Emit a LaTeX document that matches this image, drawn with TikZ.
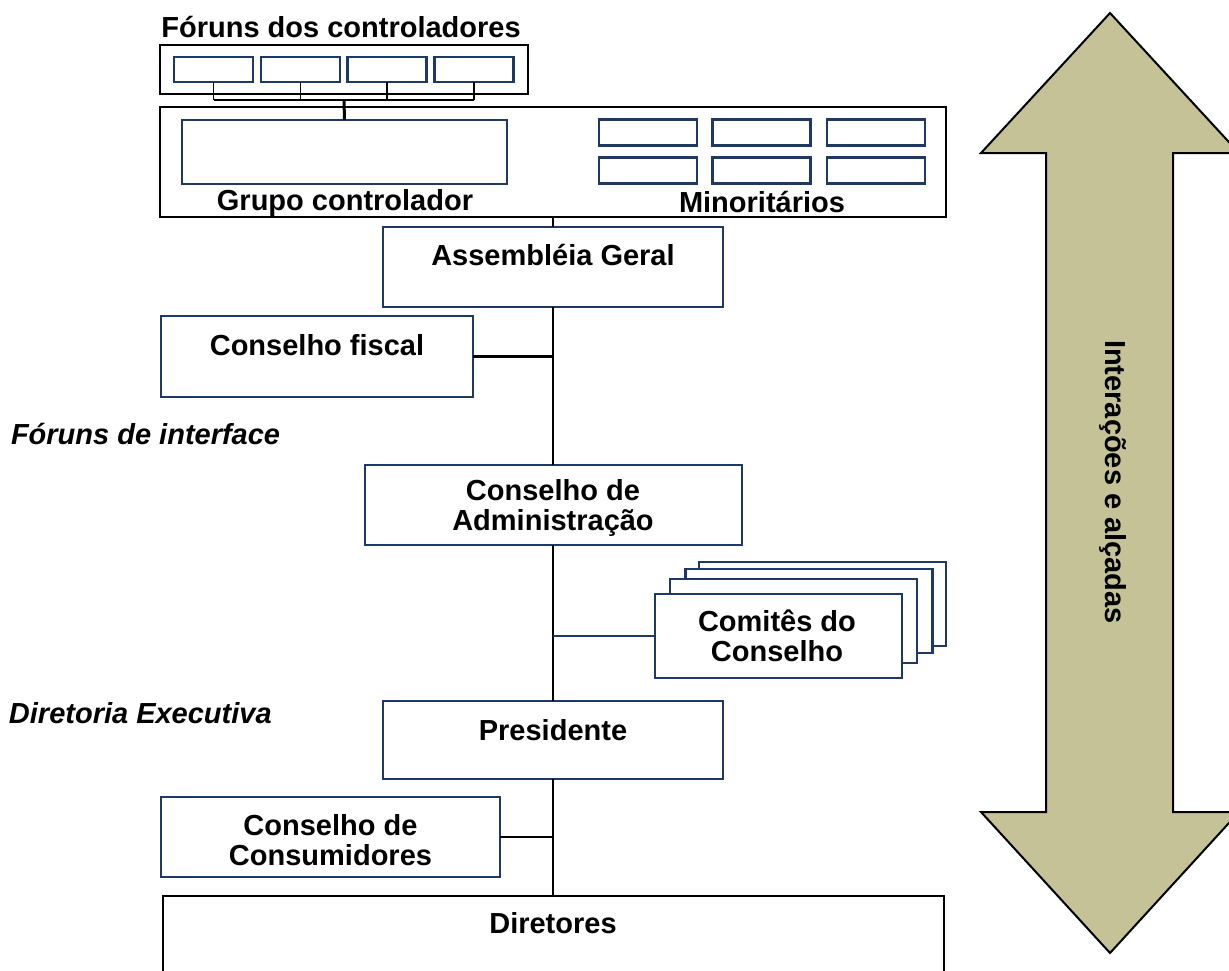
\documentclass[tikz,border=0pt]{standalone}
\usepackage{fontspec}
\setmainfont{Liberation Sans}
\definecolor{nv}{RGB}{31, 56, 100}
\definecolor{kh}{RGB}{196, 194, 150}

\begin{document}
\begin{tikzpicture}[every node/.style={inner sep=0pt, outer sep=0pt},
  nbox/.style={rectangle, draw=nv, line width=2.5pt, fill=white},
  kbox/.style={rectangle, draw=black, line width=2pt},
  lbl/.style={font=\fontsize{29}{30}\selectfont\bfseries, align=center},
  ilbl/.style={font=\fontsize{29}{30}\selectfont\bfseries\itshape, anchor=west},
  ln/.style={line width=2.2pt, color=black}]
\useasboundingbox (0pt, 0pt) rectangle (1229pt, -970pt);
% shareholders
\node (forum) [kbox, minimum width=368pt, minimum height=49pt] at (344.0pt, -69.5pt) {};
\node (f1) [nbox, minimum width=79pt, minimum height=25pt] at (213.5pt, -69.5pt) {};
\node (f2) [nbox, minimum width=79pt, minimum height=25pt] at (300.5pt, -69.5pt) {};
\node (f3) [nbox, minimum width=79pt, minimum height=25pt] at (387.0pt, -69.5pt) {};
\node (f4) [nbox, minimum width=79pt, minimum height=25pt] at (474.0pt, -69.5pt) {};
\node (tforum) [lbl] at (341.0pt, -27.0pt) {Fóruns dos controladores};
\node (big) [kbox, minimum width=786pt, minimum height=110pt] at (553.0pt, -162.0pt) {};
\node (grupo) [nbox, minimum width=325pt, minimum height=64pt] at (344.5pt, -152.0pt) {};
\node (tgrupo) [lbl] at (345.0pt, -203.0pt) {Grupo controlador};
\foreach \c [count=\i] in {648,761.5,876}
  \foreach \r [count=\j] in {132.5,170.5}
    \node (m\i\j) [nbox, minimum width=98pt, minimum height=26pt] at (\c pt, -\r pt) {};
\node (tmino) [lbl] at (762.0pt, -202.0pt) {Minoritários};
% councils
\node (asm) [nbox, minimum width=340pt, minimum height=80pt] at (553.0pt, -267.0pt) {};
\node (tasm) [lbl] at (553.0pt, -255.0pt) {Assembléia Geral};
\node (fisc) [nbox, minimum width=312pt, minimum height=81pt] at (317.0pt, -356.5pt) {};
\node (tfisc) [lbl] at (317.0pt, -345.0pt) {Conselho fiscal};
\node (tinter) [ilbl] at (11.0pt, -434.0pt) {Fóruns de interface};
\node (adm) [nbox, minimum width=377pt, minimum height=80pt] at (553.5pt, -505.0pt) {};
\node (tadm) [lbl] at (553.0pt, -508.0pt) {Conselho de\\Administração};
\node (com4) [nbox, minimum width=247pt, minimum height=84pt] at (822.5pt, -604.0pt) {};
\node (com3) [nbox, minimum width=247pt, minimum height=84pt] at (809.0pt, -611.0pt) {};
\node (com2) [nbox, minimum width=247pt, minimum height=84pt] at (793.5pt, -621.0pt) {};
\node (com1) [nbox, minimum width=247pt, minimum height=84pt] at (778.5pt, -636.0pt) {};
\node (tcom) [lbl] at (777.0pt, -636.0pt) {Comitês do\\Conselho};
\node (tdir) [ilbl] at (9.0pt, -713.0pt) {Diretoria Executiva};
\node (pres) [nbox, minimum width=340pt, minimum height=78pt] at (553.0pt, -740.0pt) {};
\node (tpres) [lbl] at (553.0pt, -730.0pt) {Presidente};
\node (cons) [nbox, minimum width=339pt, minimum height=80pt] at (330.5pt, -837.0pt) {};
\node (tcons) [lbl] at (330.5pt, -840.0pt) {Conselho de\\Consumidores};
\node (dirs) [kbox, minimum width=781pt, minimum height=88pt] at (553.5pt, -940.0pt) {};
\node (tdirs) [lbl] at (553.0pt, -923.0pt) {Diretores};
% links
\coordinate (bar) at (344.0pt, -100.0pt);
\foreach \i in {1,...,4}
  \draw [line width=1.8pt] (f\i.south) -- (f\i.south |- bar);
\draw [line width=1.8pt] (f1.south |- bar) -- (f4.south |- bar);
\draw [line width=3pt] (bar) -- (grupo.north);
\draw [ln] (big.south -| asm.north) -- (asm.north);
\draw [ln] (asm.south) -- (asm.south |- adm.north);
\draw [ln] (fisc.east) -- (fisc.east -| asm.south);
\draw [ln] (asm.south |- adm.south) -- (pres.north);
\draw [line width=1.2pt, color=nv] (com1.west) -- (com1.west -| pres.north);
\draw [ln] (pres.south) -- (pres.south |- dirs.north);
\draw [ln] (cons.east) -- (cons.east -| pres.south);
% big arrow
\draw [fill=kh, line width=2pt] (1110pt, -13pt) -- (1239pt, -153pt) -- (1173pt, -153pt)
  -- (1173pt, -812pt) -- (1239pt, -812pt) -- (1110pt, -953pt) -- (981pt, -812pt)
  -- (1046pt, -812pt) -- (1046pt, -153pt) -- (981pt, -153pt) -- cycle;
\node (tarrow) [lbl, rotate=-90] at (1113.0pt, -482.0pt) {Interações e alçadas};
\end{tikzpicture}
\end{document}
